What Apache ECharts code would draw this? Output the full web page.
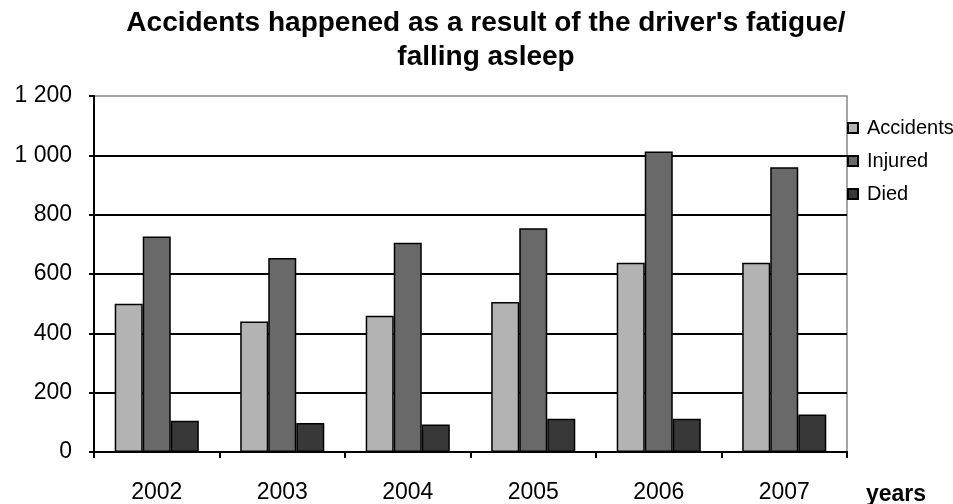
<!DOCTYPE html>
<html>
<head>
<meta charset="utf-8">
<script src="https://cdn.jsdelivr.net/npm/echarts@6/dist/echarts.min.js"></script>
<style>
  html, body { margin: 0; padding: 0; background: #fff; }
  #chart { width: 953px; height: 504px; }
</style>
</head>
<body>
<div id="chart"></div>
<script>
const years = ['2002', '2003', '2004', '2005', '2006', '2007'];
const accidents = [500, 440, 459, 506, 638, 638];
const injured = [726, 654, 705, 754, 1013, 960];
const died = [105, 98, 93, 112, 112, 126];
const yTicks = { min: 0, max: 1200, interval: 200 };
const titleLines = ["Accidents happened as a result of the driver's fatigue/", 'falling asleep'];
const xName = 'years';

const FONT = '"Liberation Sans", Arial, sans-serif';
const chart = echarts.init(document.getElementById('chart'), null, { renderer: 'canvas' });

function seriesOf(name, data, color) {
  return {
    name: name,
    type: 'bar',
    data: data,
    barGap: '0%',
    barCategoryGap: '33%',
    itemStyle: { color: color, borderColor: '#000', borderWidth: 1.5 },
    emphasis: { disabled: true }
  };
}

const titleStyle = { fontFamily: FONT, fontWeight: 'bold', fontSize: 28, color: '#000' };

chart.setOption({
  animation: false,
  backgroundColor: '#fff',
  title: [
    { text: titleLines[0], left: 481, top: 4, textAlign: 'center', textStyle: titleStyle },
    { text: titleLines[1], left: 481, top: 38, textAlign: 'center', textStyle: titleStyle },
    {
      text: xName,
      left: 861,
      top: 478,
      textStyle: { fontFamily: FONT, fontWeight: 'bold', fontSize: 23, color: '#000' }
    }
  ],
  legend: {
    orient: 'vertical',
    left: 842,
    top: 113,
    itemWidth: 10,
    itemHeight: 10,
    itemGap: 13,
    icon: 'rect',
    textStyle: { fontFamily: FONT, fontSize: 20, color: '#000', padding: [0, 0, 0, 4] },
    data: ['Accidents', 'Injured', 'Died']
  },
  grid: {
    left: 94, right: 106, top: 96, bottom: 49,
    show: true, borderColor: '#888', borderWidth: 1.5,
    containLabel: false
  },
  xAxis: {
    type: 'category',
    data: years,
    boundaryGap: true,
    axisLine: { lineStyle: { color: '#000', width: 2 } },
    axisTick: { show: true, alignWithLabel: false, length: 6, lineStyle: { color: '#000', width: 2 } },
    axisLabel: { fontFamily: FONT, fontSize: 23, color: '#000', margin: 29 }
  },
  yAxis: {
    type: 'value',
    min: yTicks.min,
    max: yTicks.max,
    interval: yTicks.interval,
    axisLine: { show: true, lineStyle: { color: '#000', width: 2 } },
    axisTick: { show: true, length: 5, lineStyle: { color: '#000', width: 2 } },
    axisLabel: {
      fontFamily: FONT, fontSize: 23, color: '#000', margin: 22,
      formatter: v => String(v).replace(/\B(?=(\d{3})+(?!\d))/g, ' ')
    },
    splitLine: { show: true, showMaxLine: false, lineStyle: { color: '#000', width: 2 } }
  },
  series: [
    seriesOf('Accidents', accidents, '#b3b3b3'),
    seriesOf('Injured', injured, '#696969'),
    seriesOf('Died', died, '#383838')
  ]
});
</script>
</body>
</html>
